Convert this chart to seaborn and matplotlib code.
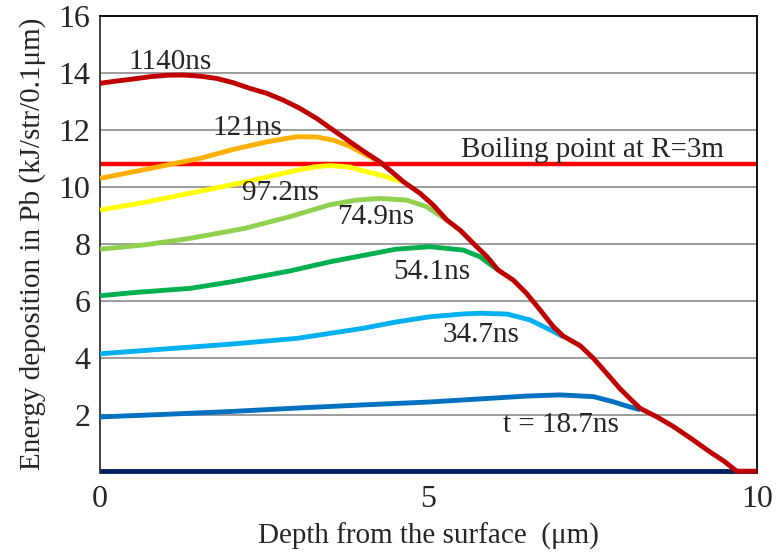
import matplotlib
matplotlib.use("Agg")
import matplotlib.pyplot as plt
import seaborn as sns
import pandas as pd

# ---- data ----
x_0 = [0.0, 10.0]
y_0 = [0.05, 0.05]

x_187 = [0, 1, 2, 3, 4, 5, 5.5, 6, 6.5, 7.0, 7.51, 7.81, 8.02, 8.22]
y_187 = [1.95, 2.04, 2.14, 2.26, 2.37, 2.47, 2.54, 2.61, 2.68, 2.72, 2.66, 2.48, 2.33, 2.2]

x_347 = [0, 1, 2, 3, 4, 4.5, 5.0, 5.5, 5.8, 6.2, 6.55, 6.85, 7.05]
y_347 = [4.16, 4.33, 4.5, 4.7, 5.05, 5.27, 5.45, 5.55, 5.58, 5.55, 5.34, 5.0, 4.76]

x_541 = [0, 0.5, 1.37, 2, 2.89, 3.5, 4.0, 4.5, 5.02, 5.53, 5.78, 6.06]
y_541 = [6.19, 6.3, 6.45, 6.68, 7.06, 7.38, 7.6, 7.82, 7.91, 7.79, 7.56, 7.09]

x_749 = [0, 0.7, 1.37, 2.2, 2.89, 3.5, 3.9, 4.26, 4.67, 4.97, 5.28]
y_749 = [7.82, 7.98, 8.2, 8.55, 8.96, 9.38, 9.54, 9.6, 9.54, 9.31, 8.84]

x_972 = [0, 0.7, 1.37, 2.2, 2.89, 3.25, 3.5, 3.8, 4.06, 4.3, 4.57]
y_972 = [9.19, 9.47, 9.78, 10.17, 10.53, 10.7, 10.75, 10.7, 10.53, 10.4, 10.2]

x_121 = [0, 0.7, 1.52, 2.0, 2.54, 3.0, 3.3, 3.55, 3.8, 3.96, 4.2]
y_121 = [10.3, 10.62, 11.0, 11.3, 11.58, 11.76, 11.75, 11.64, 11.43, 11.23, 10.95]

x_1140 = [0, 0.254, 0.507, 0.761, 1.015, 1.268, 1.522, 1.776, 2.029, 2.283, 2.537,
          2.79, 3.044, 3.298, 3.551, 3.805, 4.059, 4.26, 4.41, 4.62, 4.87, 5.07,
          5.28, 5.48, 5.68, 5.89, 6.06, 6.29, 6.49, 6.70, 6.90, 7.05, 7.31, 7.51,
          7.71, 7.91, 8.09, 8.22, 8.47, 8.73, 9.03, 9.28, 9.51, 9.69, 10.0]
y_1140 = [13.63, 13.71, 13.78, 13.86, 13.91, 13.92, 13.88, 13.80, 13.65, 13.45, 13.28,
          13.04, 12.75, 12.40, 11.99, 11.58, 11.18, 10.88, 10.59, 10.18, 9.78, 9.37,
          8.84, 8.49, 8.03, 7.56, 7.09, 6.74, 6.28, 5.69, 5.11, 4.78, 4.44, 4.0,
          3.48, 2.95, 2.54, 2.25, 1.96, 1.61, 1.14, 0.73, 0.38, 0.05, 0.05]

boiling_level = 10.81
boiling_label = "Boiling point at R=3m"

series_names = ["0ns", "18.7ns", "34.7ns", "54.1ns", "74.9ns", "97.2ns", "121ns", "1140ns"]
series_x = [x_0, x_187, x_347, x_541, x_749, x_972, x_121, x_1140]
series_y = [y_0, y_187, y_347, y_541, y_749, y_972, y_121, y_1140]
colors = ["#002060", "#0070C0", "#00B0F0", "#00B050", "#92D050", "#FFFF00", "#FFB000", "#C00000"]

label_texts = ["t = 18.7ns", "34.7ns", "54.1ns", "74.9ns", "97.2ns", "121ns", "1140ns"]
label_x = [7.02, 5.8, 5.05, 4.19, 2.74, 2.24, 1.07]
label_y = [1.67, 4.81, 7.02, 8.94, 9.79, 12.06, 14.37]

x_ticks = [0, 5, 10]
y_ticks = [2, 4, 6, 8, 10, 12, 14, 16]

# ---- build long table ----
rows = []
for name, xs, ys in zip(series_names, series_x, series_y):
    for xv, yv in zip(xs, ys):
        rows.append({"depth": xv, "energy": yv, "series": name})
df = pd.DataFrame(rows)

sns.set_theme(style="white")
plt.rcParams["font.family"] = ["Liberation Serif", "DejaVu Serif"]

fig = plt.figure(figsize=(7.78, 5.52), dpi=100)
ax = fig.add_axes([100 / 778, 1 - 472.6 / 552, 657 / 778, (472.6 - 15.6) / 552])

for yv in y_ticks:
    ax.axhline(yv, color="#8c8c8c", lw=1.2, zorder=0)

ax.axhline(boiling_level, color="#FF0000", lw=3.2, zorder=1)

sns.lineplot(data=df, x="depth", y="energy", hue="series", hue_order=series_names,
             palette=colors, estimator=None, sort=False, lw=3.5, legend=False, ax=ax,
             zorder=3)
for line in ax.get_lines():
    line.set_solid_capstyle("butt")
    line.set_solid_joinstyle("round")
    line.set_clip_on(False)

ax.text(7.5, 11.29, boiling_label, fontsize=21, ha="center", va="center")
for t, lx, ly in zip(label_texts, label_x, label_y):
    ax.text(lx, ly, t, fontsize=21, ha="center", va="center", zorder=4)

ax.set_xlim(0, 10)
ax.set_ylim(0, 16)
ax.set_xticks(x_ticks)
ax.set_yticks(y_ticks)
ax.tick_params(axis="both", labelsize=23, length=0)
ax.tick_params(axis="y", pad=7)
ax.tick_params(axis="x", pad=9)
ax.set_xlabel("Depth from the surface  (\u03bcm)", fontsize=21, labelpad=6)
ax.set_ylabel("Energy deposition in Pb (kJ/str/0.1\u03bcm)", fontsize=21, labelpad=9)

for s in ["left", "top", "right"]:
    ax.spines[s].set_visible(True)
    ax.spines[s].set_color("#000000")
    ax.spines[s].set_linewidth(1.3)
ax.spines["left"].set_color("#333333")
ax.spines["bottom"].set_visible(False)

fig.savefig("out.png", dpi=100)
